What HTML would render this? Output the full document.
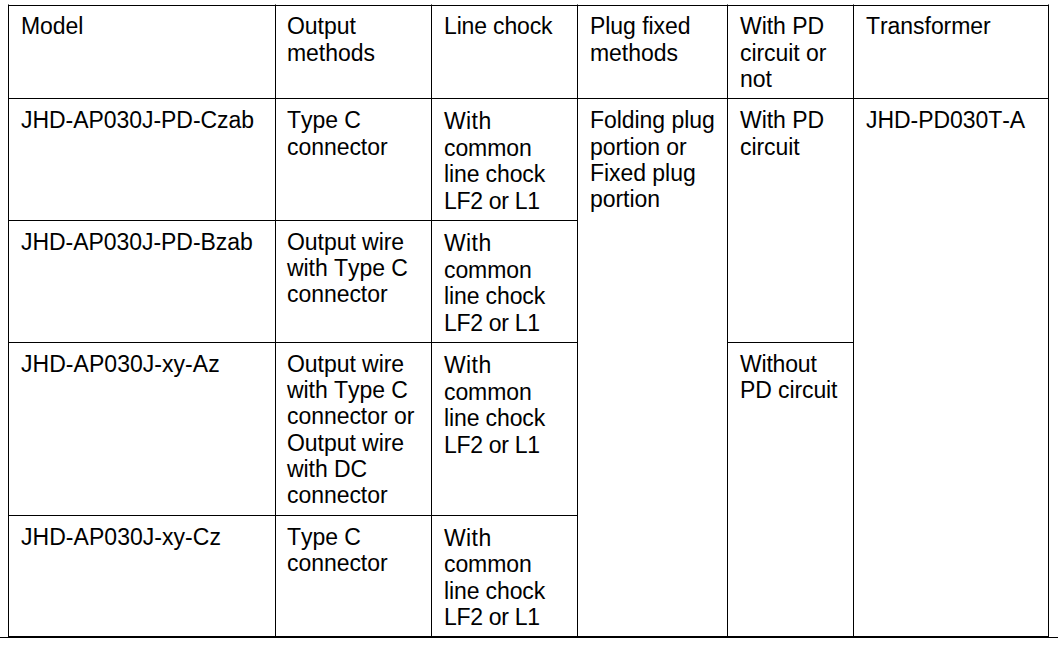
<!DOCTYPE html>
<html lang="en">
<head>
<meta charset="utf-8">
<title>Model table</title>
<style>
  html, body { margin: 0; padding: 0; background: #fff; }
  body { width: 1058px; height: 646px; position: relative; overflow: hidden;
         font-family: "Liberation Sans", Arial, sans-serif; font-size: 23px; letter-spacing: -0.05px; font-kerning: none; line-height: 26.13px; color: #000; }
  table { position: absolute; left: 8px; top: 5px; border-collapse: separate; border-spacing: 0;
          table-layout: fixed; width: 1041px; }
  td, th { box-sizing: border-box; border-left: 1px solid #000; border-top: 1px solid #000;
       padding: 0 0 0 12px; vertical-align: top; text-align: left; font-weight: normal; overflow: hidden; white-space: nowrap; }
  .r { border-right: 1px solid #000; }
  .b { border-bottom: 1px solid #000; }
  th { padding-top: 7.39px; }
  td { padding-top: 8.14px; }
  .rule { position: absolute; left: 0; top: 637px; width: 1058px; height: 1px; background: #000; }
  .c2 { padding-left: 11px; }
  td.c3 { padding-top: 9.2px; line-height: 26.47px; }
  .w1 { letter-spacing: 0.4px; }
  .w2 { letter-spacing: -0.1px; }
  .w3 { letter-spacing: -0.12px; }
  .w4 { letter-spacing: -0.3px; }
  tr.r1 > td { padding-top: 8.39px; }
  tr.r1 > td.c3 { padding-top: 9.2px; }
  .xy { letter-spacing: 0.04px; }
  .lc { letter-spacing: -0.15px; }
  .wo { letter-spacing: -0.2px; }
  .pc { letter-spacing: -0.1px; }
  tr.r4 > td.c3 { padding-top: 8.85px; line-height: 26.4px; }
  .stub { position: absolute; top: 4px; width: 1px; height: 1px; background: #777; }
</style>
</head>
<body>
<table>
  <colgroup>
    <col style="width:267px"><col style="width:156px"><col style="width:146px">
    <col style="width:150px"><col style="width:126px"><col style="width:196px">
  </colgroup>
  <thead>
  <tr style="height:93px">
    <th>Model</th>
    <th class="c2">Output<br>methods</th>
    <th class="c3 lc">Line chock</th>
    <th>Plug fixed<br>methods</th>
    <th>With PD<br>circuit or<br>not</th>
    <th class="r">Transformer</th>
  </tr>
  </thead>
  <tbody>
  <tr class="r1" style="height:122px">
    <td>JHD-AP030J-PD-Czab</td>
    <td class="c2">Type C<br>connector</td>
    <td class="c3"><span class="w1">With</span><br><span class="w2">common</span><br><span class="w3">line chock</span><br><span class="w4">LF2 or L1</span></td>
    <td rowspan="4" class="b">Folding plug<br>portion or<br>Fixed plug<br>portion</td>
    <td rowspan="2">With PD<br>circuit</td>
    <td rowspan="4" class="r b">JHD-PD030T-A</td>
  </tr>
  <tr style="height:122px">
    <td>JHD-AP030J-PD-Bzab</td>
    <td class="c2">Output wire<br>with Type C<br>connector</td>
    <td class="c3"><span class="w1">With</span><br><span class="w2">common</span><br><span class="w3">line chock</span><br><span class="w4">LF2 or L1</span></td>
  </tr>
  <tr style="height:173px">
    <td class="xy">JHD-AP030J-xy-Az</td>
    <td class="c2">Output wire<br>with Type C<br>connector or<br>Output wire<br>with DC<br>connector</td>
    <td class="c3"><span class="w1">With</span><br><span class="w2">common</span><br><span class="w3">line chock</span><br><span class="w4">LF2 or L1</span></td>
    <td rowspan="2" class="b"><span class="wo">Without</span><br><span class="pc">PD circuit</span></td>
  </tr>
  <tr class="r4" style="height:122px">
    <td class="b xy">JHD-AP030J-xy-Cz</td>
    <td class="b c2">Type C<br>connector</td>
    <td class="b c3"><span class="w1">With</span><br><span class="w2">common</span><br><span class="w3">line chock</span><br><span class="w4">LF2 or L1</span></td>
  </tr>
  </tbody>
</table>
<div class="rule"></div>
<div class="stub" style="left:8px"></div><div class="stub" style="left:275px"></div><div class="stub" style="left:431px"></div><div class="stub" style="left:577px"></div><div class="stub" style="left:727px"></div><div class="stub" style="left:853px"></div><div class="stub" style="left:1048px"></div>
</body>
</html>
